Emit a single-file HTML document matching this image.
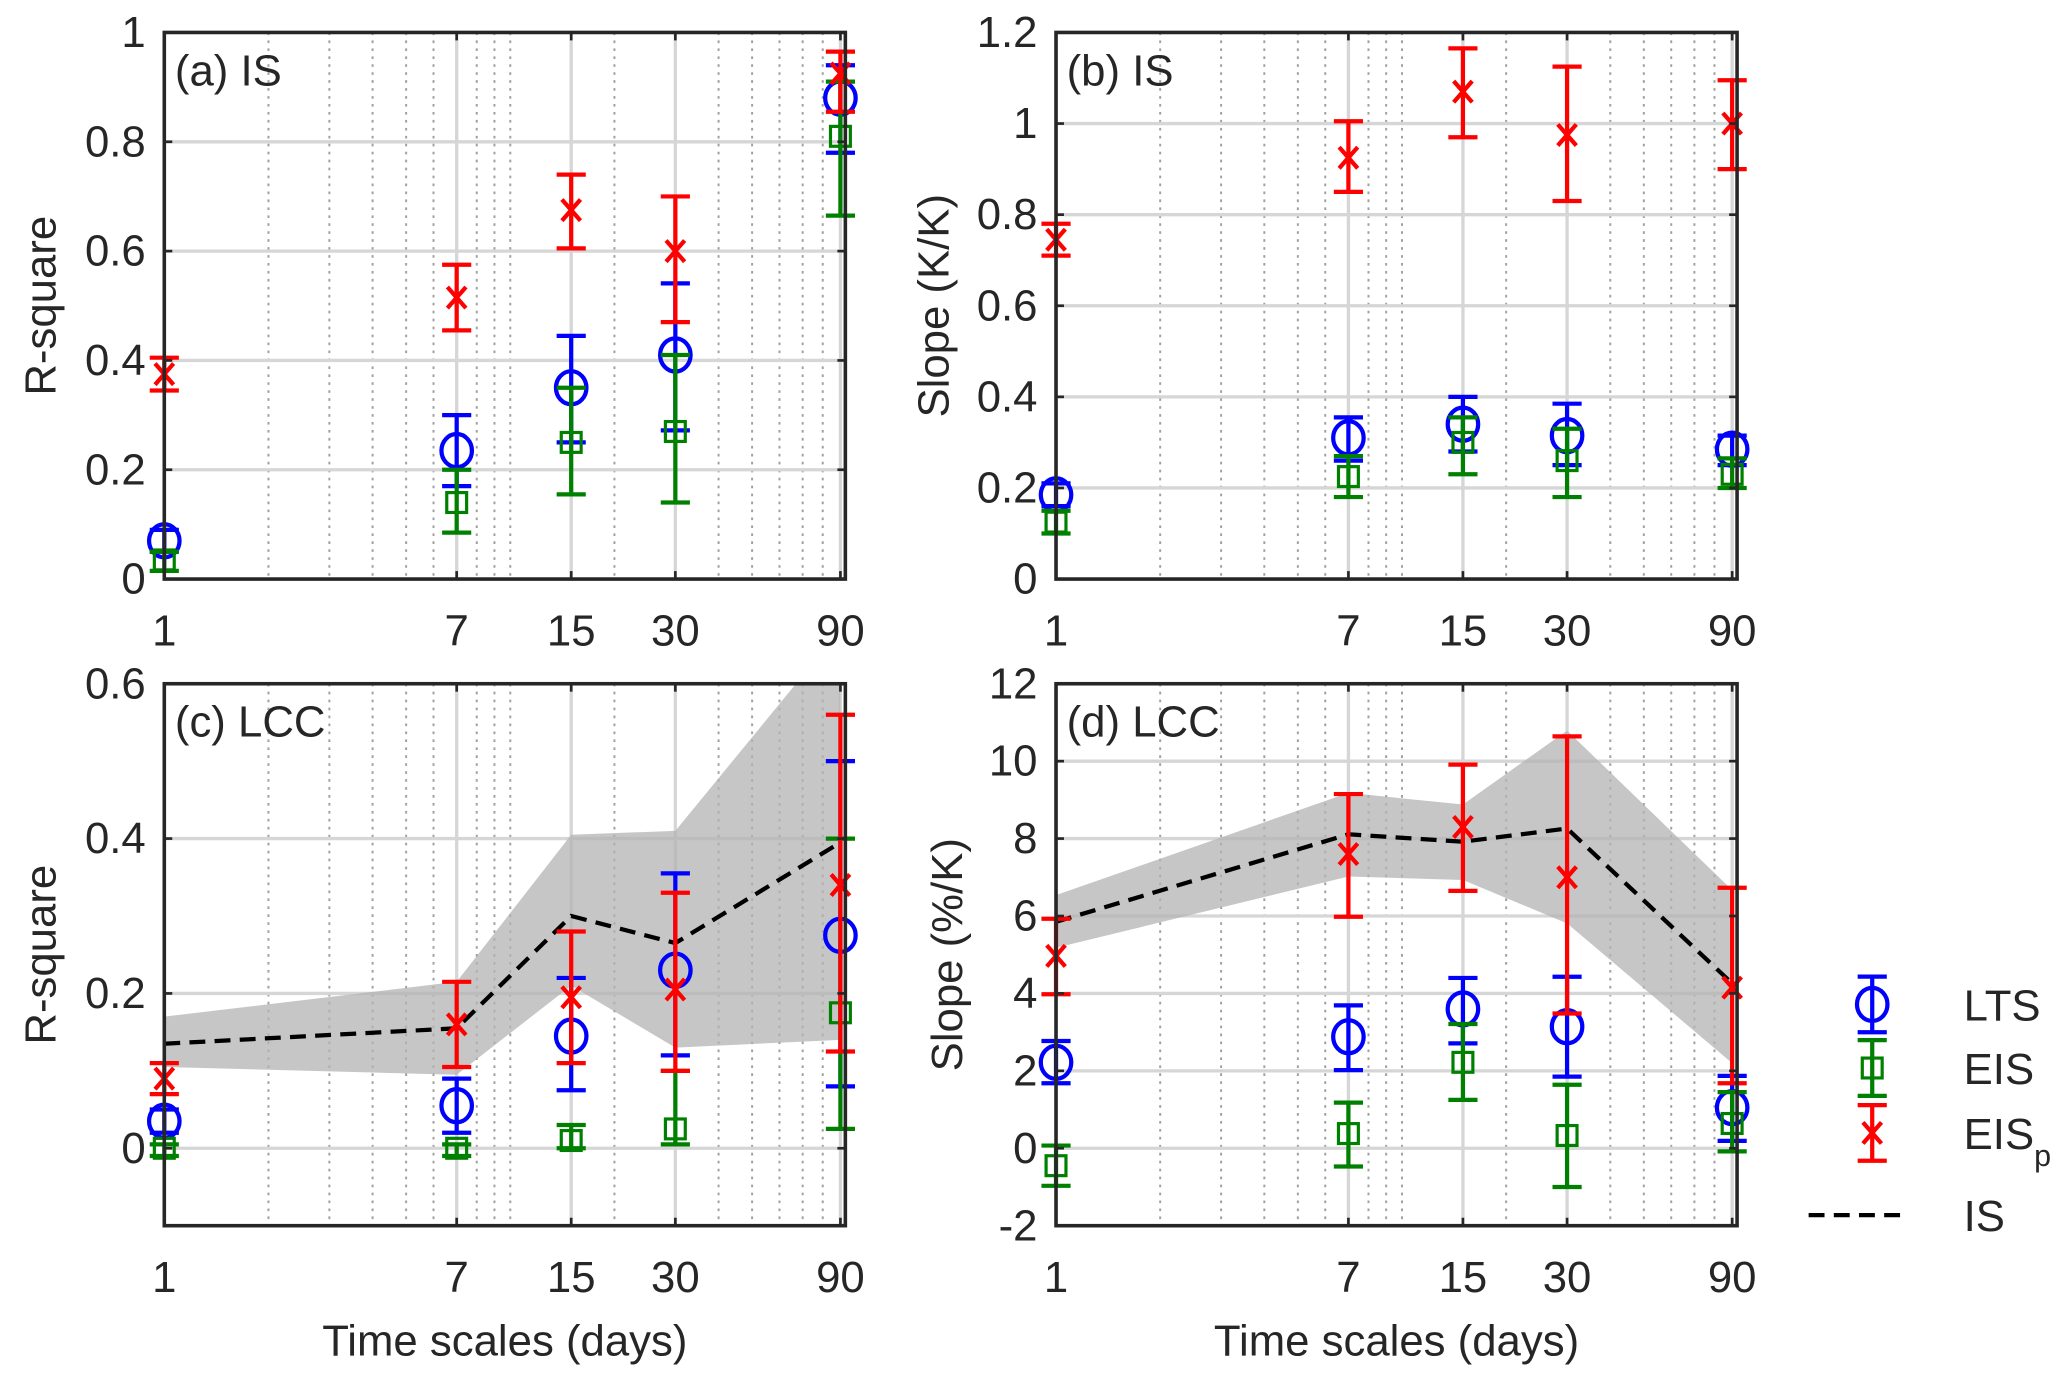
<!DOCTYPE html>
<html><head><meta charset="utf-8"><style>
html,body{margin:0;padding:0;background:#fff;}
svg{display:block;}
text{font-family:"Liberation Sans Narrow","Liberation Sans",sans-serif;fill:#262626;}
</style></head><body>
<svg id="fig" width="2067" height="1379" viewBox="0 0 1560 1040.7" preserveAspectRatio="none" xmlns="http://www.w3.org/2000/svg"></svg>
<script>
// ---- data ----
const xCats = [1, 7, 15, 30, 90];
const xTickLabels = ['1','7','15','30','90'];
// panel a: R-square IS
const aLTS = [0.07, 0.235, 0.35, 0.41, 0.88];
const aLTSlo = [0.05, 0.17, 0.25, 0.272, 0.78];
const aLTShi = [0.09, 0.30, 0.445, 0.541, 0.94];
const aEIS = [0.035, 0.14, 0.25, 0.27, 0.81];
const aEISlo = [0.015, 0.085, 0.155, 0.14, 0.665];
const aEIShi = [0.05, 0.20, 0.35, 0.41, 0.91];
const aEISp = [0.375, 0.515, 0.675, 0.60, 0.925];
const aEISplo = [0.345, 0.455, 0.605, 0.47, 0.855];
const aEISphi = [0.405, 0.575, 0.74, 0.70, 0.965];
// panel b: Slope IS
const bLTS = [0.185, 0.31, 0.34, 0.315, 0.285];
const bLTSlo = [0.16, 0.26, 0.28, 0.25, 0.25];
const bLTShi = [0.21, 0.355, 0.40, 0.385, 0.315];
const bEIS = [0.125, 0.225, 0.30, 0.26, 0.23];
const bEISlo = [0.10, 0.18, 0.23, 0.18, 0.20];
const bEIShi = [0.15, 0.27, 0.355, 0.33, 0.265];
const bEISp = [0.745, 0.925, 1.07, 0.975, 1.0];
const bEISplo = [0.71, 0.85, 0.97, 0.83, 0.90];
const bEISphi = [0.78, 1.005, 1.165, 1.125, 1.095];
// panel c: R-square LCC
const cLTS = [0.035, 0.055, 0.145, 0.23, 0.275];
const cLTSlo = [0.02, 0.02, 0.075, 0.12, 0.08];
const cLTShi = [0.05, 0.09, 0.22, 0.355, 0.50];
const cEIS = [0.0, 0.0, 0.01, 0.025, 0.175];
const cEISlo = [-0.01, -0.01, 0.0, 0.005, 0.025];
const cEIShi = [0.005, 0.005, 0.03, 0.10, 0.40];
const cEISp = [0.09, 0.16, 0.195, 0.205, 0.34];
const cEISplo = [0.07, 0.105, 0.11, 0.10, 0.125];
const cEISphi = [0.11, 0.215, 0.28, 0.33, 0.56];
const cIS = [0.135, 0.155, 0.30, 0.265, 0.395];
const cISlo = [0.105, 0.095, 0.21, 0.13, 0.14];
const cIShi = [0.17, 0.215, 0.405, 0.41, 0.67];
// panel d: Slope LCC
const dLTS = [2.22, 2.88, 3.6, 3.14, 1.05];
const dLTSlo = [1.68, 2.02, 2.71, 1.85, 0.19];
const dLTShi = [2.77, 3.69, 4.4, 4.43, 1.87];
const dEIS = [-0.45, 0.38, 2.22, 0.33, 0.64];
const dEISlo = [-0.97, -0.47, 1.25, -1.0, -0.08];
const dEIShi = [0.07, 1.18, 3.21, 1.64, 1.45];
const dEISp = [4.97, 7.6, 8.3, 7.0, 4.15];
const dEISplo = [3.98, 5.98, 6.65, 3.48, 1.68];
const dEISphi = [5.93, 9.15, 9.91, 10.64, 6.73];
const dIS = [5.85, 8.11, 7.92, 8.26, 4.26];
const dISlo = [5.18, 7.02, 6.93, 5.81, 2.2];
const dIShi = [6.54, 9.18, 8.88, 10.79, 6.67];

const aTicks = [0,0.2,0.4,0.6,0.8,1], aTickLabels=['0','0.2','0.4','0.6','0.8','1'];
const bTicks = [0,0.2,0.4,0.6,0.8,1,1.2], bTickLabels=['0','0.2','0.4','0.6','0.8','1','1.2'];
const cTicks = [0,0.2,0.4,0.6], cTickLabels=['0','0.2','0.4','0.6'];
const dTicks = [-2,0,2,4,6,8,10,12], dTickLabels=['-2','0','2','4','6','8','10','12'];

const NS='http://www.w3.org/2000/svg';
const svg=document.getElementById('fig');
function mk(tag,attrs,parent){const e=document.createElementNS(NS,tag);for(const k in attrs)e.setAttribute(k,attrs[k]);(parent||svg).appendChild(e);return e;}
const XMIN=1,XMAX=93;
const BLUE='#0000ff',GREEN='#008000',RED='#ff0000';
const FS=33;

function marker(e,m,x,y){
  if(m==='o')mk('ellipse',{cx:x,cy:y,rx:11.5,ry:12.5},e);
  else if(m==='s')mk('rect',{x:x-7.5,y:y-7.5,width:15,height:15,'stroke-width':2.4},e);
  else{mk('line',{x1:x-7,x2:x+7,y1:y-8,y2:y+8},e);mk('line',{x1:x-7,x2:x+7,y1:y+8,y2:y-8},e);}
}

function panel(o){
  const g=mk('g',{});
  
  
  const L=o.L,R=o.R,T=o.T,B=o.B;
  const sx=v=>L+(Math.log(v)-Math.log(XMIN))/(Math.log(XMAX)-Math.log(XMIN))*(R-L);
  const sy=v=>B-(v-o.ymin)/(o.ymax-o.ymin)*(B-T);
  const clip='clip-'+o.name;
  const cp=mk('clipPath',{id:clip},g);mk('rect',{x:L,y:T,width:R-L,height:B-T},cp);
  const minors=[2,3,4,5,6,8,9,10,20,40,50,60,70,80,90];
  minors.forEach(m=>{if(m<XMAX){const l=mk('line',{x1:sx(m),x2:sx(m),y1:T,y2:B,stroke:'#a0a0a0','stroke-width':1.5,'stroke-dasharray':'2 4'},g);
    }});
  xCats.forEach(c=>{const l=mk('line',{x1:sx(c),x2:sx(c),y1:T,y2:B,stroke:'#d6d6d6','stroke-width':2.5},g);
    });
  o.ticks.forEach(t=>{const l=mk('line',{x1:L,x2:R,y1:sy(t),y2:sy(t),stroke:'#d6d6d6','stroke-width':2.5},g);
    });
  const pg=mk('g',{'clip-path':'url(#'+clip+')'},g);
  if(o.is){
    let pts=xCats.map((c,i)=>sx(c)+','+sy(o.ishi[i]));
    pts=pts.concat(xCats.map((c,i)=>sx(c)+','+sy(o.islo[i])).reverse());
    const band=mk('polygon',{points:pts.join(' '),fill:'#b3b3b3','fill-opacity':0.75},pg);
    
    const ln=mk('polyline',{points:xCats.map((c,i)=>sx(c)+','+sy(o.is[i])).join(' '),fill:'none',stroke:'#000','stroke-width':3.2,'stroke-dasharray':'12 7'},pg);
    
  }
  const series=[
    {k:'lts',v:o.lts,lo:o.ltslo,hi:o.ltshi,c:BLUE,m:'o'},
    {k:'eis',v:o.eis,lo:o.eislo,hi:o.eishi,c:GREEN,m:'s'},
    {k:'eisp',v:o.eisp,lo:o.eisplo,hi:o.eisphi,c:RED,m:'x'}];
  series.forEach(s=>{
    xCats.forEach((c,i)=>{
      const x=sx(c),y=sy(s.v[i]),y1=sy(s.lo[i]),y2=sy(s.hi[i]);
      const eg=mk('g',{stroke:s.c,'stroke-width':3.2,fill:'none'},g);
      
      
      mk('line',{x1:x,x2:x,y1:y1,y2:y2},eg);
      mk('line',{x1:x-11,x2:x+11,y1:y1,y2:y1},eg);
      mk('line',{x1:x-11,x2:x+11,y1:y2,y2:y2},eg);
      marker(eg,s.m,x,y);
    });
  });
  const bx=mk('rect',{x:L,y:T,width:R-L,height:B-T,fill:'none',stroke:'#262626','stroke-width':2.7},g);
  
  o.ticks.forEach((t,i)=>{
    mk('line',{x1:L,x2:L+6,y1:sy(t),y2:sy(t),stroke:'#262626','stroke-width':2},g);
    mk('line',{x1:R-6,x2:R,y1:sy(t),y2:sy(t),stroke:'#262626','stroke-width':2},g);
    const tx=mk('text',{x:L-14,y:sy(t)+11,'text-anchor':'end','font-size':FS},g);
    tx.textContent=o.tickLabels[i];
    
  });
  xCats.forEach((c,i)=>{
    mk('line',{x1:sx(c),x2:sx(c),y1:B,y2:B-6,stroke:'#262626','stroke-width':2},g);
    mk('line',{x1:sx(c),x2:sx(c),y1:T,y2:T+6,stroke:'#262626','stroke-width':2},g);
    const tx=mk('text',{x:sx(c),y:B+50,'text-anchor':'middle','font-size':FS},g);
    tx.textContent=xTickLabels[i];
    
  });
  const pl=mk('text',{x:L+8,y:T+40,'font-size':FS,fill:'#000'},g);
  pl.textContent=o.title;
  const yl=mk('text',{x:0,y:0,'text-anchor':'middle','font-size':FS,transform:'translate('+o.ylx+','+((T+B)/2)+') rotate(-90)'},g);
  yl.textContent=o.ylabel;
  if(o.xlabel){const xl=mk('text',{x:(L+R)/2,y:B+98,'text-anchor':'middle','font-size':FS},g);
    xl.textContent='Time scales (days)';}
}
panel({name:'panel-a',L:124,R:638,T:24.5,B:437,ymin:0,ymax:1,ticks:aTicks,tickLabels:aTickLabels,title:'(a) IS',ylabel:'R-square',ylx:42,
  lts:aLTS,ltslo:aLTSlo,ltshi:aLTShi,eis:aEIS,eislo:aEISlo,eishi:aEIShi,eisp:aEISp,eisplo:aEISplo,eisphi:aEISphi});
panel({name:'panel-b',L:797,R:1311,T:24.5,B:437,ymin:0,ymax:1.2,ticks:bTicks,tickLabels:bTickLabels,title:'(b) IS',ylabel:'Slope (K/K)',ylx:716,
  lts:bLTS,ltslo:bLTSlo,ltshi:bLTShi,eis:bEIS,eislo:bEISlo,eishi:bEIShi,eisp:bEISp,eisplo:bEISplo,eisphi:bEISphi});
panel({name:'panel-c',L:124,R:638,T:516,B:925,ymin:-0.1,ymax:0.6,ticks:cTicks,tickLabels:cTickLabels,title:'(c) LCC',ylabel:'R-square',ylx:42,xlabel:true,
  lts:cLTS,ltslo:cLTSlo,ltshi:cLTShi,eis:cEIS,eislo:cEISlo,eishi:cEIShi,eisp:cEISp,eisplo:cEISplo,eisphi:cEISphi,is:cIS,islo:cISlo,ishi:cIShi});
panel({name:'panel-d',L:797,R:1311,T:516,B:925,ymin:-2,ymax:12,ticks:dTicks,tickLabels:dTickLabels,title:'(d) LCC',ylabel:'Slope (%/K)',ylx:726,xlabel:true,
  lts:dLTS,ltslo:dLTSlo,ltshi:dLTShi,eis:dEIS,eislo:dEISlo,eishi:dEIShi,eisp:dEISp,eisplo:dEISplo,eisphi:dEISphi,is:dIS,islo:dISlo,ishi:dIShi});

const lg=mk('g',{});


const legItems=[{t:'LTS',c:BLUE,m:'o',y:758},{t:'EIS',c:GREEN,m:'s',y:806},{t:'EIS',sub:'p',c:RED,m:'x',y:855}];
legItems.forEach(it=>{
  const e=mk('g',{stroke:it.c,'stroke-width':3.2,fill:'none'},lg);
  
  
  const x=1413,y=it.y;
  mk('line',{x1:x,x2:x,y1:y-21,y2:y+21},e);mk('line',{x1:x-11,x2:x+11,y1:y-21,y2:y-21},e);mk('line',{x1:x-11,x2:x+11,y1:y+21,y2:y+21},e);
  marker(e,it.m,x,y);
  const t=mk('text',{x:1482,y:y+12,'font-size':FS,fill:'#000'},lg);
  t.textContent=it.t;
  if(it.sub){const s=mk('tspan',{'font-size':23,dy:13},t);s.textContent=it.sub;}
});
const isl=mk('line',{x1:1365,x2:1440,y1:917,y2:917,stroke:'#000','stroke-width':3.2,'stroke-dasharray':'12 7'},lg);

const ist=mk('text',{x:1482,y:929,'font-size':FS,fill:'#000'},lg);ist.textContent='IS';
</script>
</body></html>
